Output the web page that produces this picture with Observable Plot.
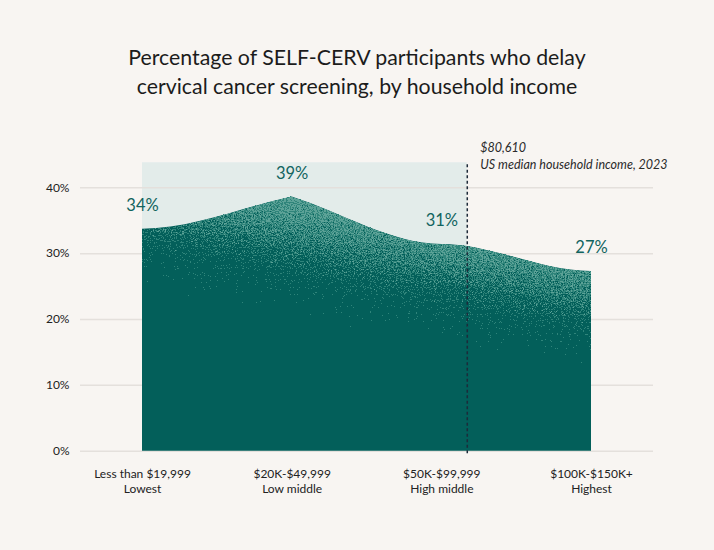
<!DOCTYPE html>
<html>
<head>
<meta charset="utf-8">
<script src="https://cdn.jsdelivr.net/npm/d3@7"></script>
<script src="https://cdn.jsdelivr.net/npm/@observablehq/plot@0.6"></script>
<style>
  html, body { margin: 0; padding: 0; background: #f8f5f2; }
  #wrap { width: 714px; height: 550px; position: relative; overflow: hidden; }
  #title {
    box-sizing: border-box; height: 118px; padding-top: 43px;
    font-family: Lato, sans-serif; font-size: 21.3px; line-height: 29px;
    text-align: center; color: #1c1c1c;
  }
  #chart svg { display: block; }
</style>
</head>
<body>
<div id="wrap">
  <div id="title">Percentage of SELF-CERV participants who delay<br>cervical cancer screening, by household income</div>
  <div id="chart"></div>
</div>
<script>
// ---- data ----
const categories = ["Less than $19,999", "$20K-$49,999", "$50K-$99,999", "$100K-$150K+"];
const tiers = ["Lowest", "Low middle", "High middle", "Highest"];
const values = [33.7, 38.6, 31.4, 27.3];
const yTicks = [0, 10, 20, 30, 40];
const medianIncome = "$80,610";
const medianNote = "US median household income, 2023";
const medianPos = 2.17;   // where $80,610 falls on the category axis
const shadeTop = 43.8;

const data = categories.map((c, i) => ({ i, category: c, tier: tiers[i], value: values[i] }));

// curve style: smooth with flat tangents, pointed at local extrema
function CuspCurve(context) { this._context = context; }
CuspCurve.prototype = {
  areaStart() { this._line = 0; },
  areaEnd() { this._line = NaN; },
  lineStart() { this._x = []; this._y = []; },
  point(x, y) { this._x.push(+x); this._y.push(+y); },
  lineEnd() {
    const X = this._x, Y = this._y, n = X.length, c = this._context;
    const sec = i => (Y[i + 1] - Y[i]) / (X[i + 1] - X[i]);
    const tangents = i => {
      if (i === 0 || i === n - 1) return [0, 0];
      const a = sec(i - 1), b = sec(i);
      if (a * b < 0) return [a, b];
      return [0, 0];
    };
    if (n) {
      if (this._line) c.lineTo(X[0], Y[0]); else c.moveTo(X[0], Y[0]);
      for (let i = 0; i < n - 1; i++) {
        const h = X[i + 1] - X[i];
        const m0 = tangents(i)[1], m1 = tangents(i + 1)[0];
        c.bezierCurveTo(X[i] + h / 3, Y[i] + m0 * h / 3, X[i + 1] - h / 3, Y[i + 1] - m1 * h / 3, X[i + 1], Y[i + 1]);
      }
    }
    if (this._line || (this._line !== 0 && n === 1)) c.closePath();
    this._line = 1 - this._line;
  }
};
const cusp = ctx => new CuspCurve(ctx);

const chart = Plot.plot({
  width: 714,
  height: 432,
  marginLeft: 80,
  marginRight: 61,
  marginTop: 0,
  marginBottom: 99.3,
  style: { background: "transparent", fontFamily: "Lato, sans-serif", fontSize: "12px", color: "#222" },
  x: { domain: [0, 3], range: [142, 591] },
  y: { domain: [0, 40], range: [332.7, 69.3] },
  marks: [
    Plot.rect([{ a: 0, b: medianPos, lo: 0, hi: shadeTop }], { x1: "a", x2: "b", y1: "lo", y2: "hi", fill: "#e3ecea" }),
    Plot.ruleY(yTicks, { stroke: "#e4e0dc", strokeWidth: 1.5 }),
    Plot.areaY(data, { x: "i", y: "value", curve: cusp, fill: "#035f5a" }),
    Plot.areaY(data, { x: "i", y: "value", curve: cusp, fill: "white", className: "speckleA" }),
    Plot.areaY(data, { x: "i", y: "value", curve: cusp, fill: "white", className: "speckleB" }),
    Plot.ruleX([{ x: medianPos, lo: -0.4, hi: shadeTop }], { x: "x", y1: "lo", y2: "hi", stroke: "#1d2b3a", strokeWidth: 1.5, strokeDasharray: "3,2.5" }),
    Plot.text([{ x: medianPos, y: shadeTop, t: medianIncome + "\n" + medianNote }], {
      x: "x", y: "y", text: "t", textAnchor: "start", dx: 13, dy: -8, lineAnchor: "middle",
      lineHeight: 1.42, fontStyle: "italic", fontSize: 12.5, fill: "#2a2a2a"
    }),
    Plot.text(data, {
      x: "i", y: "value", text: d => Math.round(d.value) + "%", dy: -18, lineAnchor: "bottom",
      fill: "#11645f", fontSize: 16.5
    }),
    Plot.axisY({ ticks: yTicks, tickFormat: d => d + "%", tickSize: 0, tickPadding: 11, fontSize: 12, label: null }),
    Plot.axisX({ ticks: [0, 1, 2, 3], tickFormat: i => categories[i] + "\n" + tiers[i], tickSize: 0, tickPadding: 15, lineHeight: 1.33, fontSize: 12, label: null })
  ]
});

document.getElementById("chart").appendChild(chart);

// texture defs (style only)
const svg = d3.select(chart);
svg.insert("defs", ":first-child").html(`
  <linearGradient id="fade" gradientUnits="userSpaceOnUse" x1="139" y1="172" x2="162" y2="52">
    <stop offset="0" stop-color="white" stop-opacity="0"/>
    <stop offset="0.3" stop-color="white" stop-opacity="0.22"/>
    <stop offset="0.55" stop-color="white" stop-opacity="0.48"/>
    <stop offset="0.8" stop-color="white" stop-opacity="0.74"/>
    <stop offset="1" stop-color="white" stop-opacity="0.9"/>
  </linearGradient>
  <filter id="specA" filterUnits="userSpaceOnUse" x="0" y="0" width="714" height="432" color-interpolation-filters="sRGB">
    <feTurbulence type="fractalNoise" baseFrequency="0.85" numOctaves="2" seed="7" result="noise"/>
    <feColorMatrix in="noise" type="matrix" values="0 0 0 0 0  0 0 0 0 0  0 0 0 0 0  1.6 0 0 0 -0.3" result="n"/>
    <feComposite in="SourceGraphic" in2="n" operator="arithmetic" k1="0" k2="1" k3="-1" k4="0.48" result="diff"/>
    <feComponentTransfer in="diff" result="mask"><feFuncA type="discrete" tableValues="0 1"/></feComponentTransfer>
    <feFlood flood-color="#2f847a" result="c"/>
    <feComposite in="c" in2="mask" operator="in"/>
  </filter>
  <filter id="specB" filterUnits="userSpaceOnUse" x="0" y="0" width="714" height="432" color-interpolation-filters="sRGB">
    <feTurbulence type="fractalNoise" baseFrequency="0.9" numOctaves="2" seed="23" result="noise"/>
    <feColorMatrix in="noise" type="matrix" values="0 0 0 0 0  0 0 0 0 0  0 0 0 0 0  1.6 0 0 0 -0.3" result="n"/>
    <feComposite in="SourceGraphic" in2="n" operator="arithmetic" k1="0" k2="1" k3="-1" k4="0.22" result="diff"/>
    <feComponentTransfer in="diff" result="mask"><feFuncA type="discrete" tableValues="0 1"/></feComponentTransfer>
    <feFlood flood-color="#5ca297" result="c"/>
    <feComposite in="c" in2="mask" operator="in"/>
  </filter>
`);
svg.selectAll(".speckleA path, .speckleB path").attr("fill", "url(#fade)");
svg.selectAll("g.speckleA").attr("filter", "url(#specA)").attr("fill", "url(#fade)");
svg.selectAll("g.speckleB").attr("filter", "url(#specB)").attr("fill", "url(#fade)");
</script>
</body>
</html>
